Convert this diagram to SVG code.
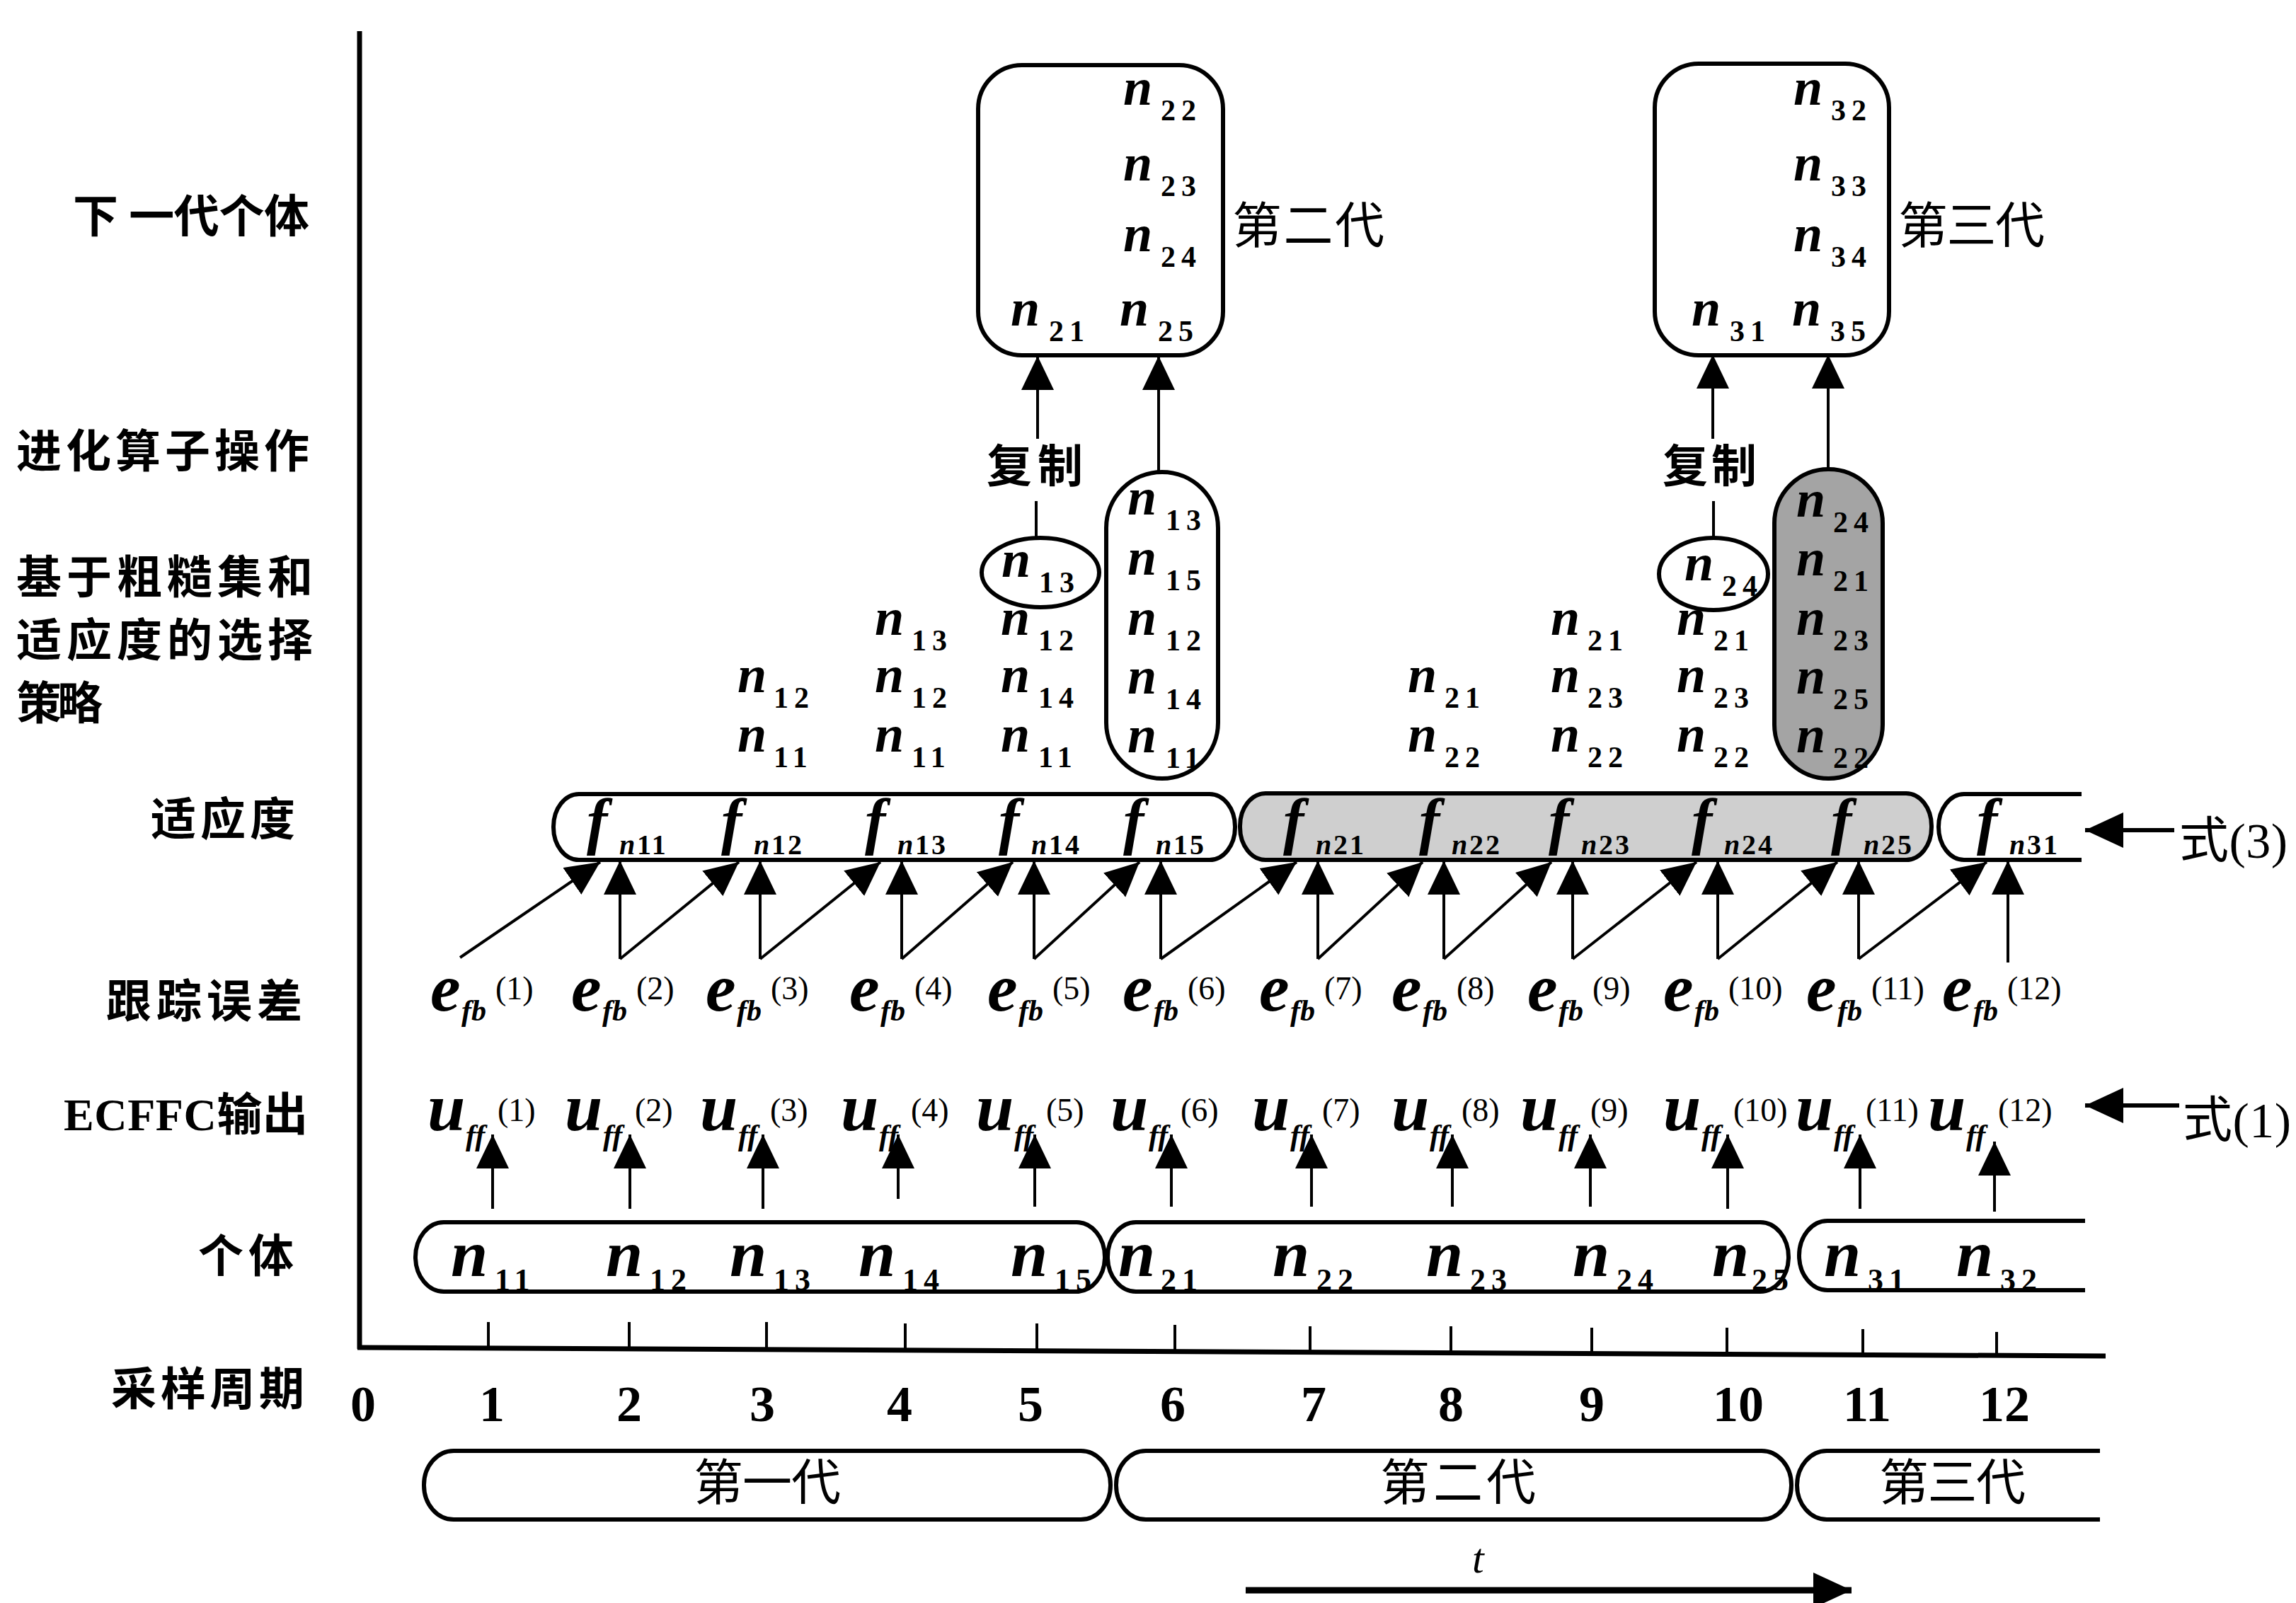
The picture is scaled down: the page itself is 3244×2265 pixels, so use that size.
<svg xmlns="http://www.w3.org/2000/svg" width="3244" height="2265" viewBox="0 0 3244 2265">
<defs>
<style>
.lbl{font-family:"Liberation Serif","Noto Sans CJK SC",serif;font-weight:bold;font-size:64px}
.cjk{font-family:"Liberation Serif","Noto Sans CJK SC",serif;font-size:70px}
.nv{font-family:"Liberation Serif",serif;font-style:italic;font-weight:bold;font-size:74px}
.nd{font-style:normal;font-size:42px;letter-spacing:8px}
.ni{font-family:"Liberation Serif",serif;font-style:italic;font-weight:bold;font-size:94px}
.nid{font-style:normal;font-size:44px;letter-spacing:8px}
.fv{font-family:"Liberation Serif",serif;font-style:italic;font-weight:bold;font-size:88px}
.fs{font-size:40px}
.fd{font-style:normal;font-size:40px;letter-spacing:3px}
.ev{font-family:"Liberation Serif",serif;font-style:italic;font-weight:bold;font-size:96px}
.es{font-size:42px}
.ep{font-style:normal;font-weight:normal;font-size:46px}
.num{font-family:"Liberation Serif",serif;font-weight:bold;font-size:72px;text-anchor:middle}
.shape{fill:none;stroke:#000;stroke-width:6}
.ln{fill:none;stroke:#000;stroke-width:4}
.ax{fill:none;stroke:#000;stroke-width:7}
</style>
<marker id="ah" markerUnits="userSpaceOnUse" markerWidth="50" markerHeight="48" refX="48" refY="23" orient="auto"><path d="M0,0 L48,23 L0,46 z" fill="#000"/></marker>
<marker id="ah2" markerUnits="userSpaceOnUse" markerWidth="56" markerHeight="52" refX="54" refY="25" orient="auto"><path d="M0,0 L54,25 L0,50 z" fill="#000"/></marker>
</defs>
<rect x="0" y="0" width="3244" height="2265" fill="#fff"/>

<g id="axes">
<line class="ax" x1="508" y1="44" x2="508" y2="1906"/>
<line class="ax" x1="505" y1="1904" x2="2975" y2="1916"/>
<g class="ln">
<line x1="690" y1="1868" x2="690" y2="1905"/><line x1="889" y1="1868" x2="889" y2="1906"/><line x1="1083" y1="1868" x2="1083" y2="1907"/><line x1="1279" y1="1870" x2="1279" y2="1908"/><line x1="1465" y1="1870" x2="1465" y2="1909"/><line x1="1660" y1="1872" x2="1660" y2="1910"/><line x1="1851" y1="1874" x2="1851" y2="1911"/><line x1="2050" y1="1874" x2="2050" y2="1912"/><line x1="2249" y1="1876" x2="2249" y2="1913"/><line x1="2440" y1="1876" x2="2440" y2="1914"/><line x1="2632" y1="1878" x2="2632" y2="1915"/><line x1="2821" y1="1882" x2="2821" y2="1916"/>
</g>
<text class="num" x="513" y="2008">0</text><text class="num" x="695" y="2008">1</text><text class="num" x="889" y="2008">2</text><text class="num" x="1077" y="2008">3</text><text class="num" x="1271" y="2008">4</text><text class="num" x="1456" y="2008">5</text><text class="num" x="1657" y="2008">6</text><text class="num" x="1856" y="2008">7</text><text class="num" x="2050" y="2008">8</text><text class="num" x="2249" y="2008">9</text><text class="num" x="2456" y="2008">10</text><text class="num" x="2638" y="2008">11</text><text class="num" x="2832" y="2008">12</text>
</g>

<g id="row-labels">
<text class="lbl" x="103" y="328" textLength="334">下 一代个体</text>
<text class="lbl" x="23" y="660" textLength="414">进化算子操作</text>
<text class="lbl" x="23" y="838" textLength="419">基于粗糙集和</text>
<text class="lbl" x="23" y="927" textLength="419">适应度的选择</text>
<text class="lbl" x="23" y="1016" textLength="122">策略</text>
<text class="lbl" x="213" y="1180" textLength="204">适应度</text>
<text class="lbl" x="150" y="1437" textLength="277">跟踪误差</text>
<text class="lbl" x="90" y="1597" textLength="345">ECFFC输出</text>
<text class="lbl" x="280" y="1797" textLength="135">个体</text>
<text class="lbl" x="157" y="1985" textLength="273">采样周期</text>
</g>

<g id="gen2-box">
<rect class="shape" x="1382" y="92" width="346" height="410" rx="62" ry="62"/>
<text class="nv" x="1587" y="148">n<tspan class="nd" x="1640" y="170">22</tspan></text>
<text class="nv" x="1587" y="255">n<tspan class="nd" x="1640" y="277">23</tspan></text>
<text class="nv" x="1587" y="355">n<tspan class="nd" x="1640" y="377">24</tspan></text>
<text class="nv" x="1428" y="460">n<tspan class="nd" x="1482" y="482">21</tspan></text>
<text class="nv" x="1582" y="460">n<tspan class="nd" x="1636" y="482">25</tspan></text>
<text class="cjk" x="1741" y="344" textLength="215">第二代</text>
</g>
<g id="gen3-box">
<rect class="shape" x="2338" y="90" width="331" height="412" rx="62" ry="62"/>
<text class="nv" x="2534" y="148">n<tspan class="nd" x="2587" y="170">32</tspan></text>
<text class="nv" x="2534" y="255">n<tspan class="nd" x="2587" y="277">33</tspan></text>
<text class="nv" x="2534" y="355">n<tspan class="nd" x="2587" y="377">34</tspan></text>
<text class="nv" x="2390" y="460">n<tspan class="nd" x="2444" y="482">31</tspan></text>
<text class="nv" x="2532" y="460">n<tspan class="nd" x="2586" y="482">35</tspan></text>
<text class="cjk" x="2682" y="344" textLength="207">第三代</text>
</g>

<g id="copy-labels">
<text class="lbl" x="1394" y="681" textLength="136">复制</text>
<text class="lbl" x="2349" y="681" textLength="133">复制</text>
</g>

<g id="copy1-ellipse">
<ellipse class="shape" cx="1470" cy="809" rx="83" ry="49"/>
<text class="nv" x="1415" y="815">n<tspan class="nd" x="1468" y="837">13</tspan></text>
</g>
<g id="copy2-ellipse">
<ellipse class="shape" cx="2421" cy="811" rx="77" ry="51"/>
<text class="nv" x="2380" y="820">n<tspan class="nd" x="2433" y="842">24</tspan></text>
</g>

<g id="sorted-gen1">
<rect class="shape" x="1563" y="667" width="158" height="433" rx="79" ry="79"/>
<text class="nv" x="1593" y="727">n<tspan class="nd" x="1647" y="749">13</tspan></text>
<text class="nv" x="1593" y="812">n<tspan class="nd" x="1647" y="834">15</tspan></text>
<text class="nv" x="1593" y="897">n<tspan class="nd" x="1647" y="919">12</tspan></text>
<text class="nv" x="1593" y="980">n<tspan class="nd" x="1647" y="1002">14</tspan></text>
<text class="nv" x="1593" y="1063">n<tspan class="nd" x="1647" y="1085">11</tspan></text>
</g>
<g id="sorted-gen2">
<rect x="2507" y="663" width="153" height="437" rx="76" ry="76" fill="#a4a4a4" stroke="#000" stroke-width="6"/>
<text class="nv" x="2538" y="730">n<tspan class="nd" x="2590" y="752">24</tspan></text>
<text class="nv" x="2538" y="813">n<tspan class="nd" x="2590" y="835">21</tspan></text>
<text class="nv" x="2538" y="897">n<tspan class="nd" x="2590" y="919">23</tspan></text>
<text class="nv" x="2538" y="980">n<tspan class="nd" x="2590" y="1002">25</tspan></text>
<text class="nv" x="2538" y="1063">n<tspan class="nd" x="2590" y="1085">22</tspan></text>
</g>

<g id="selection-columns">
<text class="nv" x="1042" y="978">n<tspan class="nd" x="1093" y="1000">12</tspan></text>
<text class="nv" x="1042" y="1062">n<tspan class="nd" x="1093" y="1084">11</tspan></text>
<text class="nv" x="1236" y="897">n<tspan class="nd" x="1288" y="919">13</tspan></text>
<text class="nv" x="1236" y="978">n<tspan class="nd" x="1288" y="1000">12</tspan></text>
<text class="nv" x="1236" y="1062">n<tspan class="nd" x="1288" y="1084">11</tspan></text>
<text class="nv" x="1414" y="897">n<tspan class="nd" x="1467" y="919">12</tspan></text>
<text class="nv" x="1414" y="978">n<tspan class="nd" x="1467" y="1000">14</tspan></text>
<text class="nv" x="1414" y="1062">n<tspan class="nd" x="1467" y="1084">11</tspan></text>
<text class="nv" x="1989" y="978">n<tspan class="nd" x="2041" y="1000">21</tspan></text>
<text class="nv" x="1989" y="1062">n<tspan class="nd" x="2041" y="1084">22</tspan></text>
<text class="nv" x="2191" y="897">n<tspan class="nd" x="2243" y="919">21</tspan></text>
<text class="nv" x="2191" y="978">n<tspan class="nd" x="2243" y="1000">23</tspan></text>
<text class="nv" x="2191" y="1062">n<tspan class="nd" x="2243" y="1084">22</tspan></text>
<text class="nv" x="2369" y="897">n<tspan class="nd" x="2421" y="919">21</tspan></text>
<text class="nv" x="2369" y="978">n<tspan class="nd" x="2421" y="1000">23</tspan></text>
<text class="nv" x="2369" y="1062">n<tspan class="nd" x="2421" y="1084">22</tspan></text>
</g>

<g id="fitness-gen1">
<rect class="shape" x="782" y="1122" width="963" height="93" rx="36" ry="46"/>
<text class="fv" x="829" y="1190">f<tspan class="fs" x="875" y="1207">n</tspan><tspan class="fd" x="900" y="1207">11</tspan></text>
<text class="fv" x="1019" y="1190">f<tspan class="fs" x="1065" y="1207">n</tspan><tspan class="fd" x="1090" y="1207">12</tspan></text>
<text class="fv" x="1222" y="1190">f<tspan class="fs" x="1268" y="1207">n</tspan><tspan class="fd" x="1293" y="1207">13</tspan></text>
<text class="fv" x="1411" y="1190">f<tspan class="fs" x="1457" y="1207">n</tspan><tspan class="fd" x="1482" y="1207">14</tspan></text>
<text class="fv" x="1587" y="1190">f<tspan class="fs" x="1633" y="1207">n</tspan><tspan class="fd" x="1658" y="1207">15</tspan></text>
</g>
<g id="fitness-gen2">
<rect x="1752" y="1121" width="977" height="94" rx="36" ry="46" fill="#cfcfcf" stroke="#000" stroke-width="6"/>
<text class="fv" x="1813" y="1190">f<tspan class="fs" x="1859" y="1207">n</tspan><tspan class="fd" x="1884" y="1207">21</tspan></text>
<text class="fv" x="2005" y="1190">f<tspan class="fs" x="2051" y="1207">n</tspan><tspan class="fd" x="2076" y="1207">22</tspan></text>
<text class="fv" x="2188" y="1190">f<tspan class="fs" x="2234" y="1207">n</tspan><tspan class="fd" x="2259" y="1207">23</tspan></text>
<text class="fv" x="2390" y="1190">f<tspan class="fs" x="2436" y="1207">n</tspan><tspan class="fd" x="2461" y="1207">24</tspan></text>
<text class="fv" x="2587" y="1190">f<tspan class="fs" x="2633" y="1207">n</tspan><tspan class="fd" x="2658" y="1207">25</tspan></text>
</g>
<g id="fitness-gen3">
<path class="shape" d="M2941,1122 H2775 A36,46.5 0 0 0 2775,1215 H2941"/>
<text class="fv" x="2793" y="1190">f<tspan class="fs" x="2839" y="1207">n</tspan><tspan class="fd" x="2864" y="1207">31</tspan></text>
</g>
<g id="eq3-label">
<text class="cjk" x="3079" y="1212" textLength="153">式(3)</text>
</g>

<g id="tracking-errors">
<text class="ev" x="608" y="1428">e<tspan class="es" x="652" y="1442">fb</tspan><tspan class="ep" x="700" y="1412">(1)</tspan></text>
<text class="ev" x="807" y="1428">e<tspan class="es" x="851" y="1442">fb</tspan><tspan class="ep" x="899" y="1412">(2)</tspan></text>
<text class="ev" x="997" y="1428">e<tspan class="es" x="1041" y="1442">fb</tspan><tspan class="ep" x="1089" y="1412">(3)</tspan></text>
<text class="ev" x="1200" y="1428">e<tspan class="es" x="1244" y="1442">fb</tspan><tspan class="ep" x="1292" y="1412">(4)</tspan></text>
<text class="ev" x="1395" y="1428">e<tspan class="es" x="1439" y="1442">fb</tspan><tspan class="ep" x="1487" y="1412">(5)</tspan></text>
<text class="ev" x="1586" y="1428">e<tspan class="es" x="1630" y="1442">fb</tspan><tspan class="ep" x="1678" y="1412">(6)</tspan></text>
<text class="ev" x="1779" y="1428">e<tspan class="es" x="1823" y="1442">fb</tspan><tspan class="ep" x="1871" y="1412">(7)</tspan></text>
<text class="ev" x="1966" y="1428">e<tspan class="es" x="2010" y="1442">fb</tspan><tspan class="ep" x="2058" y="1412">(8)</tspan></text>
<text class="ev" x="2158" y="1428">e<tspan class="es" x="2202" y="1442">fb</tspan><tspan class="ep" x="2250" y="1412">(9)</tspan></text>
<text class="ev" x="2350" y="1428">e<tspan class="es" x="2394" y="1442">fb</tspan><tspan class="ep" x="2442" y="1412">(10)</tspan></text>
<text class="ev" x="2552" y="1428">e<tspan class="es" x="2596" y="1442">fb</tspan><tspan class="ep" x="2644" y="1412">(11)</tspan></text>
<text class="ev" x="2744" y="1428">e<tspan class="es" x="2788" y="1442">fb</tspan><tspan class="ep" x="2836" y="1412">(12)</tspan></text>
</g>

<g id="ecffc-outputs">
<text class="ev" x="604" y="1597">u<tspan class="es" x="658" y="1618">ff</tspan><tspan class="ep" x="703" y="1584">(1)</tspan></text>
<text class="ev" x="798" y="1597">u<tspan class="es" x="852" y="1618">ff</tspan><tspan class="ep" x="897" y="1584">(2)</tspan></text>
<text class="ev" x="989" y="1597">u<tspan class="es" x="1043" y="1618">ff</tspan><tspan class="ep" x="1088" y="1584">(3)</tspan></text>
<text class="ev" x="1188" y="1597">u<tspan class="es" x="1242" y="1618">ff</tspan><tspan class="ep" x="1287" y="1584">(4)</tspan></text>
<text class="ev" x="1379" y="1597">u<tspan class="es" x="1433" y="1618">ff</tspan><tspan class="ep" x="1478" y="1584">(5)</tspan></text>
<text class="ev" x="1569" y="1597">u<tspan class="es" x="1623" y="1618">ff</tspan><tspan class="ep" x="1668" y="1584">(6)</tspan></text>
<text class="ev" x="1769" y="1597">u<tspan class="es" x="1823" y="1618">ff</tspan><tspan class="ep" x="1868" y="1584">(7)</tspan></text>
<text class="ev" x="1966" y="1597">u<tspan class="es" x="2020" y="1618">ff</tspan><tspan class="ep" x="2065" y="1584">(8)</tspan></text>
<text class="ev" x="2148" y="1597">u<tspan class="es" x="2202" y="1618">ff</tspan><tspan class="ep" x="2247" y="1584">(9)</tspan></text>
<text class="ev" x="2350" y="1597">u<tspan class="es" x="2404" y="1618">ff</tspan><tspan class="ep" x="2449" y="1584">(10)</tspan></text>
<text class="ev" x="2537" y="1597">u<tspan class="es" x="2591" y="1618">ff</tspan><tspan class="ep" x="2636" y="1584">(11)</tspan></text>
<text class="ev" x="2724" y="1597">u<tspan class="es" x="2778" y="1618">ff</tspan><tspan class="ep" x="2823" y="1584">(12)</tspan></text>
</g>
<g id="eq1-label">
<text class="cjk" x="3084" y="1607" textLength="153">式(1)</text>
</g>

<g id="individuals-gen1">
<rect class="shape" x="587" y="1727" width="974" height="98" rx="40" ry="49"/>
<text class="ni" x="637" y="1803">n<tspan class="nid" x="699" y="1823">11</tspan></text>
<text class="ni" x="856" y="1803">n<tspan class="nid" x="918" y="1823">12</tspan></text>
<text class="ni" x="1031" y="1803">n<tspan class="nid" x="1093" y="1823">13</tspan></text>
<text class="ni" x="1213" y="1803">n<tspan class="nid" x="1275" y="1823">14</tspan></text>
<text class="ni" x="1428" y="1803">n<tspan class="nid" x="1490" y="1823">15</tspan></text>
</g>
<g id="individuals-gen2">
<rect class="shape" x="1565" y="1727" width="962" height="98" rx="40" ry="49"/>
<text class="ni" x="1580" y="1803">n<tspan class="nid" x="1640" y="1823">21</tspan></text>
<text class="ni" x="1798" y="1803">n<tspan class="nid" x="1860" y="1823">22</tspan></text>
<text class="ni" x="2015" y="1803">n<tspan class="nid" x="2077" y="1823">23</tspan></text>
<text class="ni" x="2222" y="1803">n<tspan class="nid" x="2284" y="1823">24</tspan></text>
<text class="ni" x="2419" y="1803">n<tspan class="nid" x="2475" y="1823">25</tspan></text>
</g>
<g id="individuals-gen3">
<path class="shape" d="M2946,1725 H2582 A40,49 0 0 0 2582,1823 H2946"/>
<text class="ni" x="2577" y="1803">n<tspan class="nid" x="2639" y="1823">31</tspan></text>
<text class="ni" x="2764" y="1803">n<tspan class="nid" x="2826" y="1823">32</tspan></text>
</g>

<g id="generations">
<rect class="shape" x="599" y="2050" width="970" height="97" rx="42" ry="48"/>
<text class="cjk" x="980" y="2120" textLength="208">第一代</text>
<rect class="shape" x="1577" y="2050" width="954" height="97" rx="42" ry="48"/>
<text class="cjk" x="1950" y="2120" textLength="220">第二代</text>
<path class="shape" d="M2967,2050 H2581 A42,48.5 0 0 0 2581,2147 H2967"/>
<text class="cjk" x="2655" y="2120" textLength="207">第三代</text>
</g>

<g id="time-axis">
<text x="2080" y="2222" font-family="Liberation Serif, serif" font-style="italic" font-size="60">t</text>
</g>

<g id="connectors" class="ln">
<line x1="1466" y1="620" x2="1466" y2="503" marker-end="url(#ah)"/>
<line x1="1637" y1="667" x2="1637" y2="503" marker-end="url(#ah)"/>
<line x1="2420" y1="620" x2="2420" y2="501" marker-end="url(#ah)"/>
<line x1="2583" y1="663" x2="2583" y2="501" marker-end="url(#ah)"/>
<line x1="1464" y1="708" x2="1464" y2="760"/>
<line x1="2421" y1="708" x2="2421" y2="760"/>

<line x1="876" y1="1355" x2="876" y2="1216" marker-end="url(#ah)"/>
<line x1="1074" y1="1355" x2="1074" y2="1216" marker-end="url(#ah)"/>
<line x1="1274" y1="1355" x2="1274" y2="1216" marker-end="url(#ah)"/>
<line x1="1461" y1="1355" x2="1461" y2="1216" marker-end="url(#ah)"/>
<line x1="1640" y1="1355" x2="1640" y2="1216" marker-end="url(#ah)"/>
<line x1="1862" y1="1355" x2="1862" y2="1216" marker-end="url(#ah)"/>
<line x1="2040" y1="1355" x2="2040" y2="1216" marker-end="url(#ah)"/>
<line x1="2222" y1="1355" x2="2222" y2="1216" marker-end="url(#ah)"/>
<line x1="2427" y1="1355" x2="2427" y2="1216" marker-end="url(#ah)"/>
<line x1="2626" y1="1355" x2="2626" y2="1216" marker-end="url(#ah)"/>
<line x1="2837" y1="1360" x2="2837" y2="1216" marker-end="url(#ah)"/>

<line x1="650" y1="1353" x2="848" y2="1218" marker-end="url(#ah)"/>
<line x1="876" y1="1355" x2="1044" y2="1218" marker-end="url(#ah)"/>
<line x1="1074" y1="1355" x2="1244" y2="1218" marker-end="url(#ah)"/>
<line x1="1274" y1="1355" x2="1431" y2="1218" marker-end="url(#ah)"/>
<line x1="1461" y1="1355" x2="1610" y2="1218" marker-end="url(#ah)"/>
<line x1="1640" y1="1355" x2="1832" y2="1218" marker-end="url(#ah)"/>
<line x1="1862" y1="1355" x2="2010" y2="1218" marker-end="url(#ah)"/>
<line x1="2040" y1="1355" x2="2192" y2="1218" marker-end="url(#ah)"/>
<line x1="2222" y1="1355" x2="2397" y2="1218" marker-end="url(#ah)"/>
<line x1="2427" y1="1355" x2="2596" y2="1218" marker-end="url(#ah)"/>
<line x1="2626" y1="1355" x2="2807" y2="1218" marker-end="url(#ah)"/>

<line x1="696" y1="1708" x2="696" y2="1603" marker-end="url(#ah)"/>
<line x1="890" y1="1708" x2="890" y2="1603" marker-end="url(#ah)"/>
<line x1="1078" y1="1708" x2="1078" y2="1603" marker-end="url(#ah)"/>
<line x1="1269" y1="1694" x2="1269" y2="1603" marker-end="url(#ah)"/>
<line x1="1462" y1="1705" x2="1462" y2="1603" marker-end="url(#ah)"/>
<line x1="1655" y1="1705" x2="1655" y2="1603" marker-end="url(#ah)"/>
<line x1="1853" y1="1705" x2="1853" y2="1603" marker-end="url(#ah)"/>
<line x1="2052" y1="1705" x2="2052" y2="1603" marker-end="url(#ah)"/>
<line x1="2247" y1="1705" x2="2247" y2="1603" marker-end="url(#ah)"/>
<line x1="2441" y1="1708" x2="2441" y2="1603" marker-end="url(#ah)"/>
<line x1="2628" y1="1708" x2="2628" y2="1603" marker-end="url(#ah)"/>
<line x1="2818" y1="1712" x2="2818" y2="1613" marker-end="url(#ah)"/>

<line x1="3072" y1="1173" x2="2946" y2="1173" stroke-width="6" marker-end="url(#ah2)"/>
<line x1="3079" y1="1562" x2="2946" y2="1562" stroke-width="6" marker-end="url(#ah2)"/>
<line x1="1760" y1="2247" x2="2616" y2="2247" stroke-width="9" marker-end="url(#ah2)"/>
</g>
</svg>
